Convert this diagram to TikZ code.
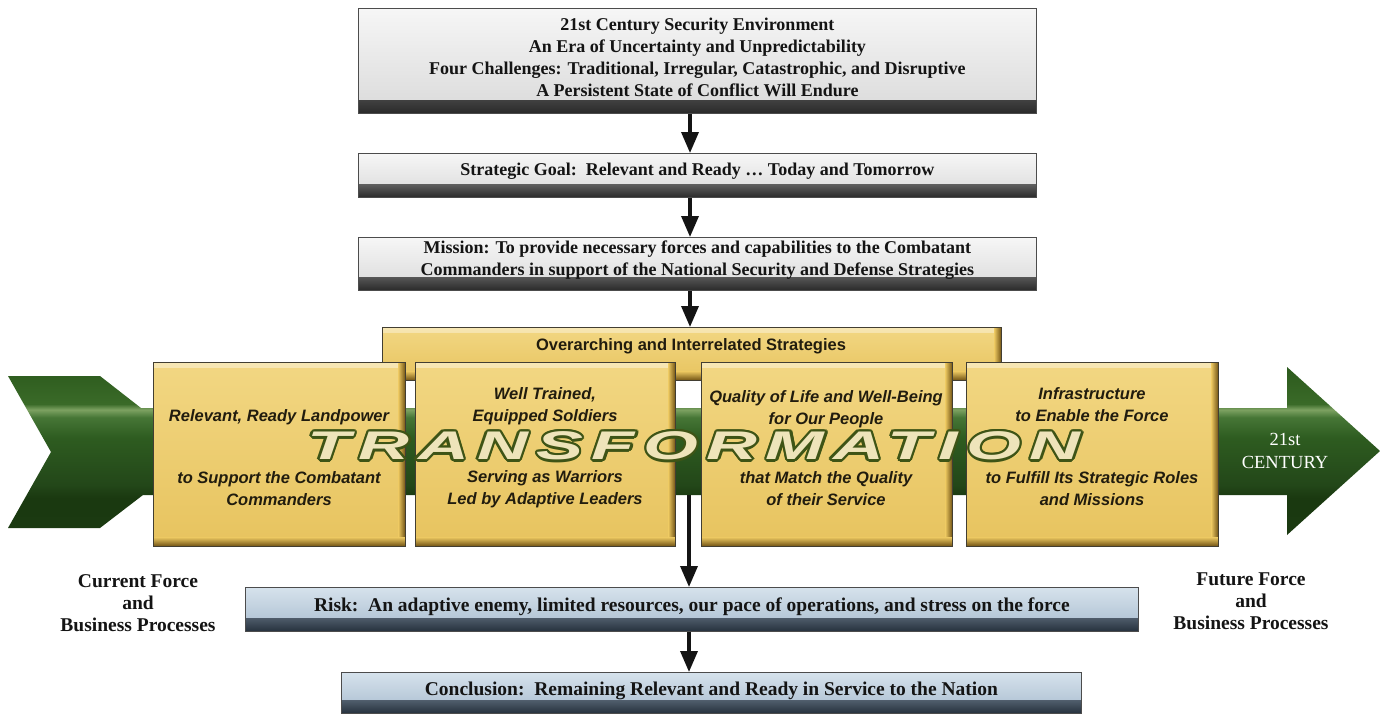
\documentclass[tikz,border=0pt]{standalone}
\usepackage{graphicx}
\usepackage{fontspec}
\setmainfont{Liberation Serif}
\setsansfont{Liberation Sans}
\newfontfamily\transfont[LetterSpace=12]{Liberation Sans}
\usetikzlibrary{arrows.meta,calc}

\definecolor{gold}{HTML}{E7C35E}
\definecolor{goldhi}{HTML}{F2D783}
\definecolor{golddark}{HTML}{6E5012}
\definecolor{greytop}{HTML}{F6F6F6}
\definecolor{greybot}{HTML}{DADADA}
\definecolor{greydark}{HTML}{2A2A2A}
\definecolor{bluetop}{HTML}{D6E2EC}
\definecolor{bluebot}{HTML}{A8BCCF}
\definecolor{bluedark}{HTML}{26313D}
\definecolor{olive}{HTML}{3E5416}
\definecolor{cream}{HTML}{EEE4BA}
\definecolor{inkdark}{HTML}{211C0E}
\definecolor{gA}{HTML}{1B3A11}
\definecolor{gB}{HTML}{1A3910}
\definecolor{gC}{HTML}{234719}
\definecolor{gD}{HTML}{2E5C20}
\definecolor{gE}{HTML}{467636}
\definecolor{gF}{HTML}{7DA262}
\definecolor{gG}{HTML}{3A6A28}
\definecolor{gH}{HTML}{2C5A1D}

\pgfdeclareverticalshading{greenshade}{100bp}{color(0bp)=(gA); color(25bp)=(gA); color(36bp)=(gB); color(40bp)=(gC); color(54bp)=(gD); color(60bp)=(gE); color(62.3bp)=(gF); color(64bp)=(gG); color(75bp)=(gH); color(100bp)=(gH)}

\tikzset{
  conn/.style={line width=3.5pt, draw=black!92, -{Triangle[width=17pt,length=21pt]}},
  greybox/.style={draw=black!70, line width=0.8pt, top color=greytop, bottom color=greybot,
    inner sep=0pt, anchor=north west,
    path picture={\shade[top color=greybot, bottom color=greydark]
      ([yshift=13pt]path picture bounding box.south west) rectangle (path picture bounding box.south east);}},
  bluebox/.style={draw=black!70, line width=0.8pt, top color=bluetop, bottom color=bluebot,
    inner sep=0pt, anchor=north west,
    path picture={\shade[top color=bluebot, bottom color=bluedark]
      ([yshift=13pt]path picture bounding box.south west) rectangle (path picture bounding box.south east);}},
  ybox/.style={draw=inkdark!85, line width=0.9pt, top color=goldhi, bottom color=gold,
    inner sep=0pt, anchor=north west,
    path picture={
      \shade[top color=goldhi!60!white, bottom color=gold]
        (path picture bounding box.north west) rectangle ([yshift=-5pt]path picture bounding box.north east);
      \shade[left color=gold, right color=golddark]
        ([xshift=-7pt]path picture bounding box.north east) rectangle (path picture bounding box.south east);
      \shade[top color=gold, bottom color=golddark]
        ([yshift=9pt]path picture bounding box.south west) rectangle (path picture bounding box.south east);}},
  gtext/.style={align=center, inner sep=0pt, text=black!92, font=\bfseries\fontsize{18}{22}\selectfont},
  btext/.style={align=center, inner sep=0pt, text=black!92, font=\bfseries\fontsize{19.5}{22}\selectfont},
  ytext/.style={align=center, inner sep=0pt, text=inkdark, font=\sffamily\bfseries\itshape\fontsize{16.5}{22}\selectfont},
  otext/.style={align=center, inner sep=0pt, text=inkdark, font=\sffamily\bfseries\fontsize{16.5}{20}\selectfont},
  sidetext/.style={align=center, inner sep=0pt, text=black!92, font=\bfseries\fontsize{19.5}{22}\selectfont},
  centtext/.style={align=center, inner sep=0pt, text=white, font=\fontsize{18.5}{23}\selectfont},
  trans/.style={inner sep=0pt, font=\transfont\bfseries\itshape\fontsize{40}{40}\selectfont},
}

\begin{document}
\begin{tikzpicture}[x=1pt,y=-1pt]
\useasboundingbox (0,0) rectangle (1380,715);
\fill[white] (0,0) rectangle (1380,715);

% axis coordinates for the connectors
\coordinate (ax) at (690,0);
\coordinate (bandbot) at (689,495);

% connector from the strategies to the risk (below the band)
\node[bluebox, minimum width=893pt, minimum height=44pt] (risk) at (245,587) {};
\draw[conn] (bandbot) -- (risk.north -| bandbot);

% green arrow
\shade[shading=greenshade] (8,376) -- (100,376) -- (141,408) -- (1287,408) -- (1287,367)
  -- (1380,451) -- (1287,535) -- (1287,495) -- (143,495) -- (100,528) -- (8,528) -- (51,452) -- cycle;

% overarching box and the four strategy boxes
\node[ybox, minimum width=619pt, minimum height=53pt] (over) at (382,327) {};
\node[otext] (overt) at (691,346) {Overarching and Interrelated Strategies};

\node[ybox, minimum width=252pt, minimum height=184pt] (b1) at (153,362) {};
\node[ybox, minimum width=260pt, minimum height=184pt] (b2) at (415,362) {};
\node[ybox, minimum width=251pt, minimum height=184pt] (b3) at (701,362) {};
\node[ybox, minimum width=252pt, minimum height=184pt] (b4) at (966,362) {};

% TRANSFORMATION (outlined lettering)
\coordinate (tc) at (694,446);
\foreach \i in {0,...,11}
  \node[trans, text=olive] (ts\i) at ($(tc)+(\i*30:2.4)$) {\scalebox{1.76}[1]{TRANSFORMATION}};
\node[trans, text=cream] (transf) at (tc) {\scalebox{1.76}[1]{TRANSFORMATION}};

% strategy texts
\node[ytext] (b1u) at (279,417) {Relevant, Ready Landpower};
\node[ytext] (b1l) at (279,489) {to Support the Combatant\\Commanders};
\node[ytext] (b2u) at (545,406) {Well Trained,\\Equipped Soldiers};
\node[ytext] (b2l) at (545,489) {Serving as Warriors\\Led by Adaptive Leaders};
\node[ytext] (b3u) at (826,409) {Quality of Life and Well-Being\\for Our People};
\node[ytext] (b3l) at (826,489) {that Match the Quality\\of their Service};
\node[ytext] (b4u) at (1092,405) {Infrastructure\\to Enable the Force};
\node[ytext] (b4l) at (1092,489) {to Fulfill Its Strategic Roles\\and Missions};

\node[centtext] (cent) at (1285,451) {21st\\CENTURY};

% grey boxes
\node[greybox, minimum width=678pt, minimum height=105pt] (env) at (358,8) {};
\node[gtext] (envt) at ([yshift=3.5pt]env.center) {21st Century Security Environment\\An Era of Uncertainty and Unpredictability\\Four Challenges: Traditional, Irregular, Catastrophic, and Disruptive\\A Persistent State of Conflict Will Endure};

\node[greybox, minimum width=678pt, minimum height=44pt] (goal) at (358,153) {};
\node[gtext] (goalt) at ([yshift=4pt]goal.center) {Strategic Goal:\ \ Relevant and Ready … Today and Tomorrow};

\node[greybox, minimum width=678pt, minimum height=53pt] (mission) at (358,237) {};
\node[gtext] (missiont) at ([yshift=4pt]mission.center) {Mission: To provide necessary forces and capabilities to the Combatant\\Commanders in support of the National Security and Defense Strategies};

% risk and conclusion
\node[btext] (riskt) at ([yshift=3pt]risk.center) {Risk:\ \ An adaptive enemy, limited resources, our pace of operations, and stress on the force};
\node[bluebox, minimum width=740pt, minimum height=41pt] (concl) at (341,672) {};
\node[btext] (conclt) at ([yshift=2.5pt]concl.center) {Conclusion:\ \ Remaining Relevant and Ready in Service to the Nation};

% connectors
\draw[conn] (env.south -| ax) -- (goal.north -| ax);
\draw[conn] (goal.south -| ax) -- (mission.north -| ax);
\draw[conn] (mission.south -| ax) -- (over.north -| ax);
\draw[conn] (risk.south -| bandbot) -- (concl.north -| bandbot);

% side labels
\node[sidetext] (cur) at (138,603) {Current Force\\and\\Business Processes};
\node[sidetext] (fut) at (1251,601) {Future Force\\and\\Business Processes};
\end{tikzpicture}
\end{document}
